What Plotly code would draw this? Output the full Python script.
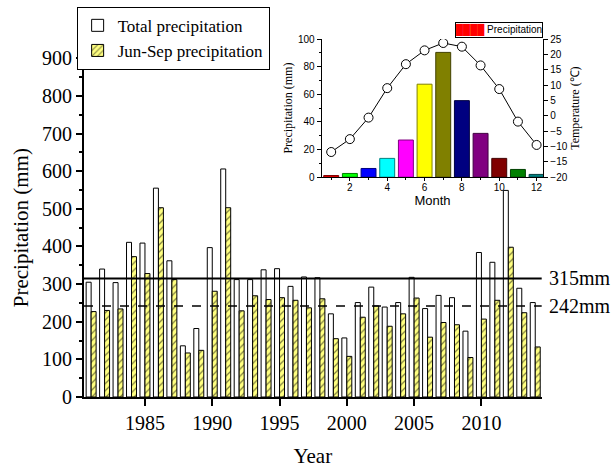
import plotly.graph_objects as go

years = list(range(1981, 2015))
total_precip = [305, 340, 304, 411, 409, 555, 362, 136, 182, 397, 606, 312, 312,
                338, 341, 294, 319, 317, 221, 157, 251, 292, 239, 251, 318, 235,
                270, 264, 175, 384, 358, 549, 289, 251]
junsep_precip = [227, 230, 234, 373, 328, 503, 312, 117, 124, 281, 503, 229, 269,
                 259, 264, 257, 237, 261, 155, 108, 212, 242, 188, 221, 263, 159,
                 198, 192, 105, 207, 257, 398, 224, 133]
mean_total = 315
mean_junsep = 242

months = list(range(1, 13))
month_precip = [1.2, 2.7, 6.3, 13.6, 26.9, 67.3, 90.3, 55.4, 31.7, 13.6, 5.6, 2.0]
month_temp = [-11.8, -7.6, -0.6, 9.0, 16.8, 21.3, 23.7, 22.5, 16.4, 8.7, -1.9, -9.5]
month_colors = ["#ff0000", "#00ff00", "#0000ff", "#00ffff", "#ff00ff", "#ffff00",
                "#808000", "#000080", "#800080", "#800000", "#008000", "#008080"]
month_edges = ["#800000", "#008000", "#000080", "#008080", "#800080", "#808000",
               "#404000", "#000040", "#400040", "#400000", "#004000", "#004040"]

SERIF = "Liberation Serif"
SANS = "Liberation Sans"

fig = go.Figure()

fig.add_trace(go.Bar(
    x=years, y=total_precip, name="Total precipitation",
    marker=dict(color="white", line=dict(color="black", width=1)),
    xaxis="x", yaxis="y",
))
fig.add_trace(go.Bar(
    x=years, y=junsep_precip, name="Jun-Sep precipitation",
    marker=dict(color="#ffff80", line=dict(color="black", width=1),
                pattern=dict(shape="/", fgcolor="black", bgcolor="#ffff80",
                             size=5, solidity=0.25)),
    xaxis="x", yaxis="y",
))

# inset
fig.add_trace(go.Bar(
    x=months, y=month_precip, name="Precipitation", showlegend=False,
    marker=dict(color=month_colors, line=dict(color=month_edges, width=1)),
    width=0.8, xaxis="x2", yaxis="y2",
))
fig.add_trace(go.Scatter(
    x=months, y=month_temp, mode="lines+markers", showlegend=False,
    line=dict(color="black", width=1),
    marker=dict(symbol="circle", size=9, color="white",
                line=dict(color="black", width=1)),
    xaxis="x2", yaxis="y3",
))

# inset legend box
fig.add_annotation(
    x=0.9985, xref="paper", y=1.004, yref="paper", xanchor="right", yanchor="bottom",
    text="<span style='color:#ff0000'>████</span> Precipitation",
    showarrow=False, bgcolor="white", bordercolor="black", borderwidth=1,
    borderpad=0, font=dict(family=SANS, size=10, color="black"),
)

fig.add_shape(type="line", xref="x domain", yref="y", x0=0, x1=1,
              y0=mean_total, y1=mean_total, line=dict(color="black", width=2))
fig.add_shape(type="line", xref="x domain", yref="y", x0=0, x1=1,
              y0=mean_junsep, y1=mean_junsep,
              line=dict(color="black", width=1.5, dash="dash"))
fig.add_annotation(x=1.006, xref="paper", y=mean_total, yref="y",
                   text=f"{mean_total}mm", showarrow=False, xanchor="left",
                   font=dict(family=SERIF, size=20, color="black"))
fig.add_annotation(x=1.006, xref="paper", y=mean_junsep, yref="y",
                   text=f"{mean_junsep}mm", showarrow=False, xanchor="left",
                   font=dict(family=SERIF, size=20, color="black"))

fig.update_layout(
    width=611, height=468,
    margin=dict(l=84, r=67, t=39, b=71, autoexpand=False),
    paper_bgcolor="white", plot_bgcolor="white",
    barmode="group", bargap=0.26, bargroupgap=0,
    font=dict(family=SERIF, color="black"),
    xaxis=dict(
        domain=[0, 0.995], range=[1980.47, 2014.48], automargin=False,
        tickmode="array", tickvals=[1985, 1990, 1995, 2000, 2005, 2010],
        ticks="outside", ticklen=7, tickwidth=1.5, tickcolor="black",
        showline=True, linecolor="black", linewidth=2, showgrid=False,
        zeroline=False, tickfont=dict(family=SERIF, size=20, color="black"),
        ticklabelstandoff=0,
        title=dict(text="Year", font=dict(family=SERIF, size=21, color="black"),
                   standoff=18),
    ),
    yaxis=dict(
        domain=[0, 0.946], range=[0, 900], dtick=100, automargin=False,
        ticks="outside", ticklen=6, tickwidth=1.5, tickcolor="black",
        minor=dict(dtick=50, ticks="outside", ticklen=3, tickcolor="black"),
        showline=True, linecolor="black", linewidth=2, showgrid=False,
        zeroline=False, tickfont=dict(family=SERIF, size=20, color="black"),
        title=dict(text="Precipitation (mm)",
                   font=dict(family=SERIF, size=21, color="black"), standoff=8),
    ),
    xaxis2=dict(
        domain=[0.5167, 0.9985], range=[0.49, 12.36], anchor="y2",
        tickmode="array", tickvals=[2, 4, 6, 8, 10, 12],
        ticks="outside", ticklen=3, tickcolor="black",
        minor=dict(tickvals=[1, 3, 5, 7, 9, 11], ticks="outside", ticklen=2,
                   tickcolor="black"),
        showline=True, linecolor="black", linewidth=1, showgrid=False,
        zeroline=False, tickfont=dict(family=SANS, size=10, color="black"),
        ticklabelstandoff=-2,
        title=dict(text="Month", font=dict(family=SANS, size=13, color="black"),
                   standoff=0),
    ),
    yaxis2=dict(
        domain=[0.614, 1.0], range=[0, 100], dtick=20, anchor="x2",
        ticks="outside", ticklen=4, tickcolor="black",
        minor=dict(dtick=10, ticks="outside", ticklen=2, tickcolor="black"),
        showline=True, linecolor="black", linewidth=1, showgrid=False,
        zeroline=False, tickfont=dict(family=SANS, size=10, color="black"),
        title=dict(text="Precipitation (mm)",
                   font=dict(family=SERIF, size=12, color="black"), standoff=2),
    ),
    yaxis3=dict(
        range=[-20, 25], dtick=5, anchor="x2", overlaying="y2", side="right",
        ticks="outside", ticklen=4, tickcolor="black",
        showline=True, linecolor="black", linewidth=1, showgrid=False,
        zeroline=False, tickfont=dict(family=SANS, size=10, color="black"),
        title=dict(text="Temperature (℃)",
                   font=dict(family=SERIF, size=12, color="black"), standoff=2),
    ),
    legend=dict(
        x=-0.016, y=1.09, xanchor="left", yanchor="top",
        bgcolor="white", bordercolor="black", borderwidth=1,
        font=dict(family=SERIF, size=17, color="black"), tracegroupgap=0,
        itemwidth=30,
    ),
)

fig.write_html("out.html")
